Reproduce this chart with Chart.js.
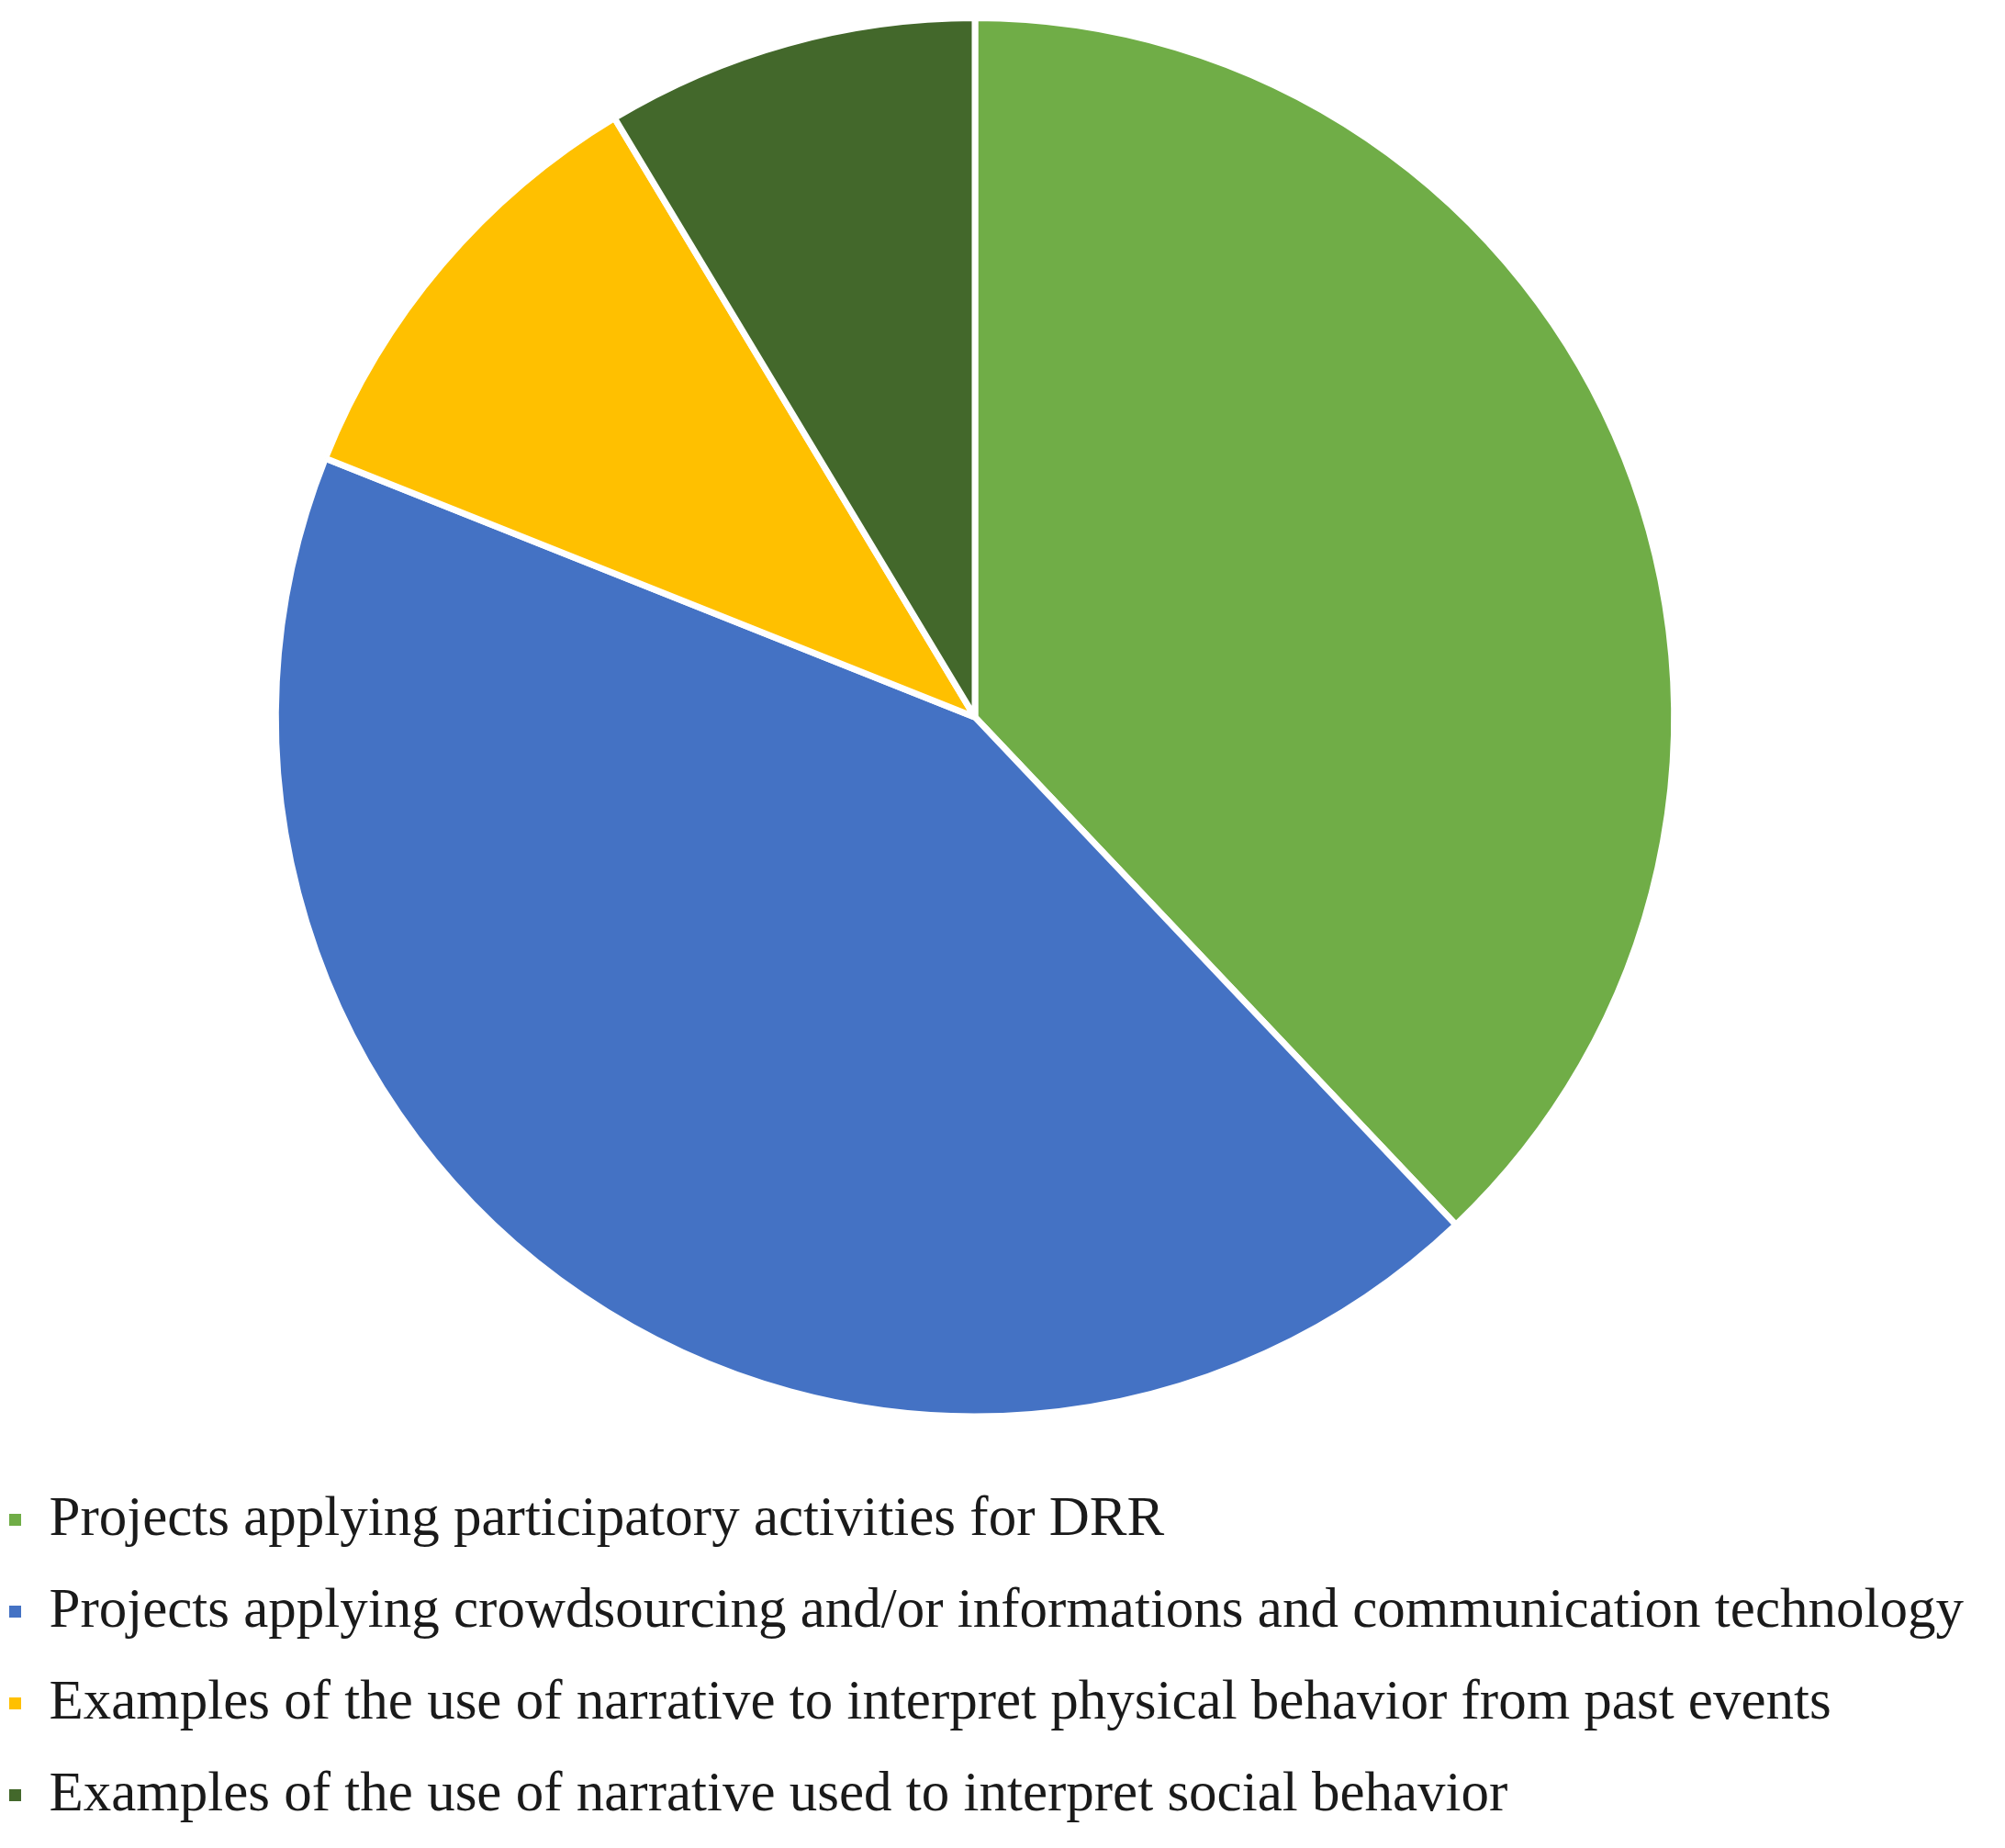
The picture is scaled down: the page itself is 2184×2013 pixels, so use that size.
<!DOCTYPE html>
<html>
<head>
<meta charset="utf-8">
<script src="https://cdn.jsdelivr.net/npm/chart.js@4"></script>
<style>
html,body{margin:0;padding:0;background:#fff;}
#wrap{width:2184px;height:2013px;}
</style>
</head>
<body>
<div id="wrap"><canvas id="c" width="2184" height="2013"></canvas></div>
<script>
const categories = [
  "Projects applying participatory activities for DRR",
  "Projects applying crowdsourcing and/or informations and communication technology",
  "Examples of the use of narrative to interpret physical behavior from past events",
  "Examples of the use of narrative used to interpret social behavior"
];
const counts = [22, 25, 6, 5];
const colors = ["#70AD47", "#4472C4", "#FFC000", "#43682B"];

const shiftLegend = {
  id: 'shiftLegend',
  afterLayout(chart) {
    const lg = chart.legend;
    if (lg) {
      lg.left -= 29;
      lg.right = chart.width;
      lg.width = lg.right - lg.left;
    }
  }
};

new Chart(document.getElementById('c'), {
  type: 'pie',
  data: {
    labels: categories,
    datasets: [{
      data: counts,
      backgroundColor: colors,
      borderColor: '#ffffff',
      borderWidth: 7
    }]
  },
  plugins: [shiftLegend],
  options: {
    responsive: false,
    animation: false,
    layout: { padding: { left: 0, right: 60, top: 16, bottom: 17 } },
    plugins: {
      tooltip: { enabled: false },
      legend: {
        position: 'bottom',
        align: 'start',
        title: { display: true, text: '', padding: 0, font: { size: 33, lineHeight: 1.2 } },
        labels: {
          boxWidth: 13,
          boxHeight: 13,
          padding: 39,
          color: '#1a1a1a',
          font: { family: '"Liberation Serif", "Times New Roman", serif', size: 61 },
          generateLabels: function(chart) {
            const items = Chart.overrides.pie.plugins.legend.labels.generateLabels(chart);
            return items.map(it => Object.assign(it, { lineWidth: 0, strokeStyle: it.fillStyle }));
          }
        }
      }
    }
  }
});
</script>
</body>
</html>
